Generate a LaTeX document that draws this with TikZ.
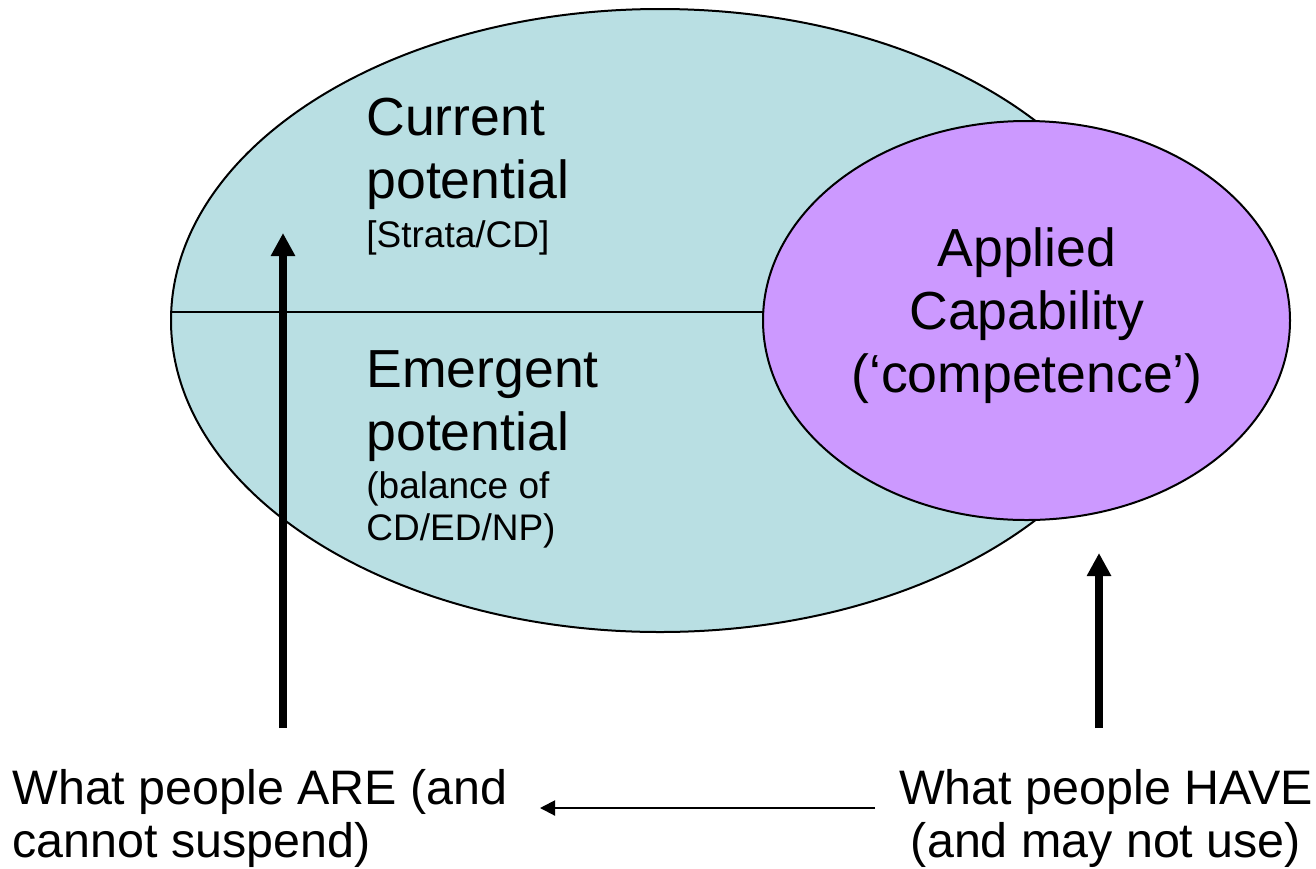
\documentclass[tikz,border=0pt]{standalone}
\usepackage{fontspec}
\setmainfont{Liberation Sans}
\usetikzlibrary{arrows.meta,shapes.geometric}
\definecolor{potfill}{RGB}{185,223,227}
\definecolor{appfill}{RGB}{204,153,255}

\begin{document}
\begin{tikzpicture}[x=0.5pt,y=-0.5pt,
    blob/.style={ellipse,draw,line width=1pt,inner sep=0pt,outer sep=0pt},
    big/.style={font=\fontsize{26.8}{31.5}\selectfont,align=left,inner sep=0pt},
    small/.style={font=\fontsize{18.5}{21}\selectfont,align=left,inner sep=0pt},
    foot/.style={font=\fontsize{24.2}{26.5}\selectfont,inner sep=0pt},
    fat/.style={line width=4pt,-{Triangle[length=11.5pt,width=11.5pt]}},
    thin/.style={line width=1pt,-{Triangle[length=7.5pt,width=7.5pt]}}]
\useasboundingbox (0,0) rectangle (1316,868);
% the two ellipses
\node (pot) [blob,fill=potfill,minimum width=489pt,minimum height=311.5pt] at (660,320.5) {};
\node (app) [blob,fill=appfill,minimum width=263.5pt,minimum height=199.5pt] at (1026.5,320.5) {};
\draw[line width=1pt] ([yshift=4.25pt]pot.west) -- ([yshift=4.25pt]app.west);
% texts (base = last line)
\node (cur) [big,anchor=base west] at (366,198) {Current\\potential};
\node (strata) [small,anchor=base west] at (366,247) {[Strata/CD]};
\node (emg) [big,anchor=base west] at (366,450) {Emergent\\potential};
\node (bal) [small,anchor=base west] at (366,540) {(balance of\\CD/ED/NP)};
\node (apc) [big,align=center,anchor=base] at (1027,392) {Applied\\Capability\\(‘competence’)};
\node (are) [foot,align=left,anchor=base west] at (12,857) {What people ARE (and\\cannot suspend)};
\node (have) [foot,align=center,anchor=base] at (1106,857) {What people HAVE\\(and may not use)};
% arrows
\coordinate (lfoot) at (283,728);
\coordinate (ltip) at (283,233);
\coordinate (rfoot) at (1099,728);
\coordinate (rtip) at (1099,553);
\coordinate (hfrom) at (875,808);
\coordinate (hto) at (540,808);
\draw[fat] (lfoot) -- (ltip);
\draw[fat] (rfoot) -- (rtip);
\draw[thin] (hfrom) -- (hto);
\end{tikzpicture}
\end{document}
